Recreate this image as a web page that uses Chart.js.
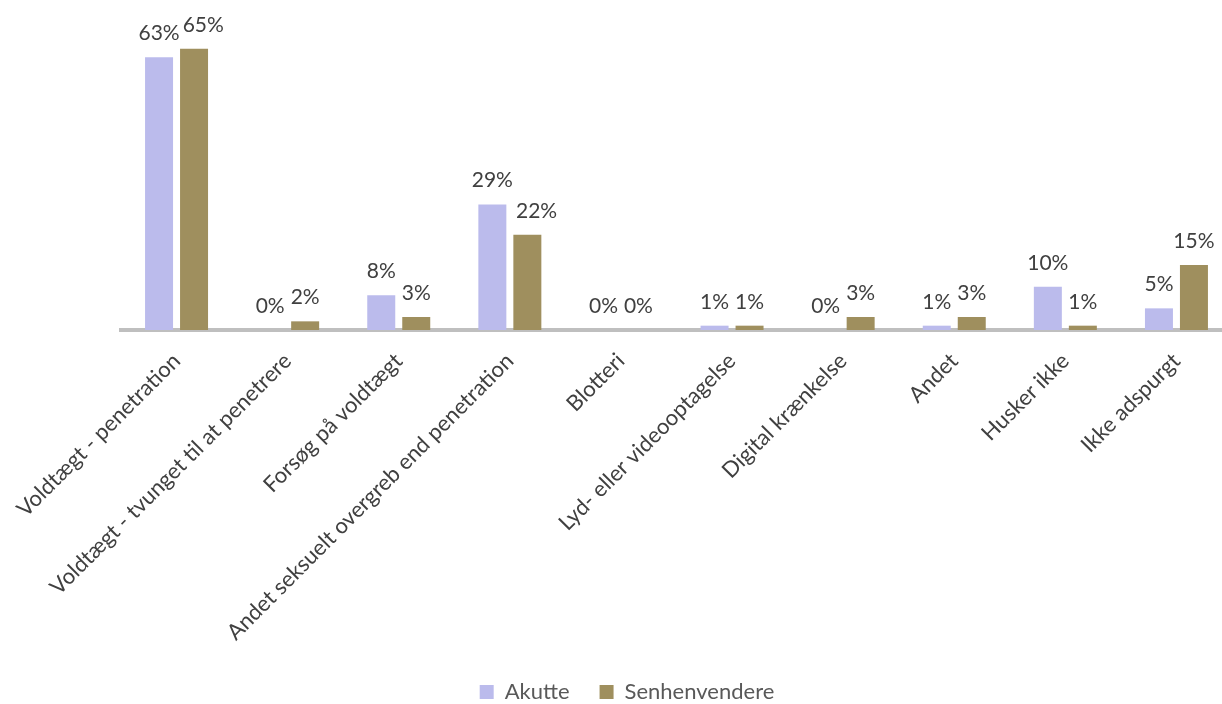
<!DOCTYPE html>
<html>
<head>
<meta charset="utf-8">
<script src="https://cdn.jsdelivr.net/npm/chart.js@4"></script>
<style>
  html, body { margin: 0; padding: 0; background: #fff; overflow: hidden; }
  #wrap { width: 1254px; height: 704px; }
</style>
</head>
<body>
<div id="wrap"><canvas id="chart" width="1254" height="704"></canvas></div>
<script>
// categories and values (percent)
const categories = [
  "Voldtægt - penetration",
  "Voldtægt - tvunget til at penetrere",
  "Forsøg på voldtægt",
  "Andet seksuelt overgreb end penetration",
  "Blotteri",
  "Lyd- eller videooptagelse",
  "Digital krænkelse",
  "Andet",
  "Husker ikke",
  "Ikke adspurgt"
];
const akutte = [63, 0, 8, 29, 0, 1, 0, 1, 10, 5];
const senhenvendere = [65, 2, 3, 22, 0, 1, 3, 3, 1, 15];

// value labels above each bar, second label nudged right if it collides
const valueLabels = {
  id: "valueLabels",
  afterDatasetsDraw(chart) {
    const ctx = chart.ctx;
    ctx.save();
    ctx.font = "21px Lato";
    ctx.fillStyle = "#404040";
    ctx.textAlign = "center";
    ctx.textBaseline = "alphabetic";
    const m0 = chart.getDatasetMeta(0).data;
    const m1 = chart.getDatasetMeta(1).data;
    categories.forEach((c, j) => {
      const t0 = akutte[j] + "%";
      const t1 = senhenvendere[j] + "%";
      const x0 = m0[j].x, y0 = m0[j].y - 17;
      let x1 = m1[j].x;
      const y1 = m1[j].y - 17;
      const right0 = x0 + ctx.measureText(t0).width / 2;
      const left1 = x1 - ctx.measureText(t1).width / 2;
      if (left1 < right0 && Math.abs(y1 - y0) < 32) {
        x1 += right0 - left1 + 3;
      }
      ctx.fillText(t0, x0, y0);
      ctx.fillText(t1, x1, y1);
    });
    ctx.restore();
  }
};

new Chart(document.getElementById("chart"), {
  type: "bar",
  data: {
    labels: categories,
    datasets: [
      { label: "Akutte", data: akutte, backgroundColor: "#bbbbec" },
      { label: "Senhenvendere", data: senhenvendere, backgroundColor: "#9f8f5e" }
    ]
  },
  options: {
    responsive: false,
    animation: false,
    devicePixelRatio: 1,
    categoryPercentage: 0.63,
    barPercentage: 0.8,
    layout: { padding: { left: 0, right: 0, top: 27, bottom: -9 } },
    plugins: {
      legend: {
        position: "bottom",
        labels: {
          font: { family: "Lato", size: 22 },
          color: "#595959",
          boxWidth: 14,
          boxHeight: 14,
          padding: 30
        }
      },
      tooltip: { enabled: false }
    },
    scales: {
      x: {
        grid: { display: false },
        border: { display: true, color: "#bfbfbf", width: 4 },
        ticks: {
          font: { family: "Lato", size: 22 },
          color: "#404040",
          minRotation: 45,
          maxRotation: 45,
          padding: 10,
          autoSkip: false
        },
        afterFit(scale) {
          scale.paddingLeft = 121;
          scale.paddingRight = 22;
          scale.height = 321;
        }
      },
      y: {
        display: false,
        min: 0,
        max: 70
      }
    }
  },
  plugins: [valueLabels]
});
</script>
</body>
</html>
